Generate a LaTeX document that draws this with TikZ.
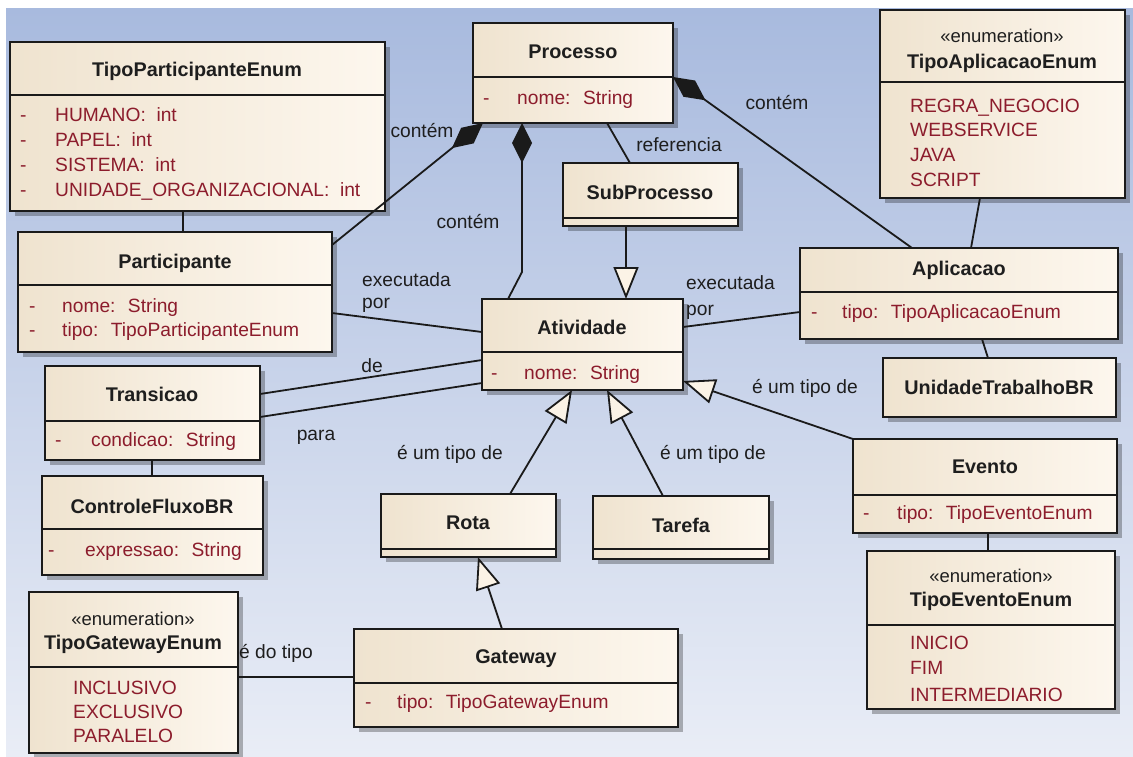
\documentclass[tikz,border=0pt]{standalone}
\usepackage{fontspec}
\setmainfont{Liberation Sans}
\usetikzlibrary{arrows.meta,shadows}

\definecolor{bgtop}{HTML}{A8BADE}
\definecolor{bgbot}{HTML}{E9EDF6}
\definecolor{boxL}{HTML}{EFE3CF}
\definecolor{boxR}{HTML}{FDF7EE}
\definecolor{edge}{HTML}{1A1A1A}
\definecolor{ink}{HTML}{1E1E1E}
\definecolor{attrc}{HTML}{8C1C2C}
\definecolor{tipc}{HTML}{FBF3E6}

% class box from top-left (x1,y1) to bottom-right (x2,y2), in pixel units
\newcommand\umlbox[5]{%
  \pgfmathsetmacro\bw{#4-#2}\pgfmathsetmacro\bh{#5-#3}%
  \node[cls, anchor=north west, minimum width=\bw pt, minimum height=\bh pt] (#1) at (#2,#3) {};}
% compartment divider of box #1 at height #2
\newcommand\umlsep[2]{\draw[boxline] (#1.west |- 0,#2) -- (#1.east |- 0,#2);}

\begin{document}
\begin{tikzpicture}[x=1pt,y=-1pt,
  cls/.style={draw=edge, line width=1.8pt, left color=boxL, right color=boxR,
    inner sep=0pt, outer sep=0pt,
    drop shadow={shadow xshift=5pt, shadow yshift=-5pt, fill=black, opacity=0.28}},
  boxline/.style={draw=edge, line width=1.8pt},
  txt/.style={inner sep=0pt, text height=13.6pt, text depth=0pt},
  ttl/.style={txt, font=\fontsize{19.8}{22}\selectfont\bfseries, text=ink},
  stereo/.style={txt, font=\fontsize{18.5}{22}\selectfont, text=ink},
  attr/.style={txt, font=\fontsize{19.2}{22}\selectfont, text=attrc, anchor=west},
  lbl/.style={txt, font=\fontsize{19.2}{22}\selectfont, text=ink},
  link/.style={draw=edge, line width=1.8pt},
  comp/.style={link, {Diamond[length=40pt,width=20pt]}-},
  gen/.style={link, -{Triangle[length=32pt,width=25pt,fill=tipc]}},
]
\useasboundingbox (0,0) rectangle (1133,756);
\fill[white] (0,0) rectangle (1133,756);
\shade[top color=bgtop, bottom color=bgbot] (6,8) rectangle (1133,756);

% ---------- classes ----------
\umlbox{tpe}{10}{42}{385}{211}
\umlsep{tpe}{95}
\node[ttl] (tpe-t) at (197,70) {TipoParticipanteEnum};
\node[attr] (tpe-d1) at (20,115) {-};
\node[attr] (tpe-a1) at (55,115) {HUMANO:~ int};
\node[attr] (tpe-d2) at (20,140) {-};
\node[attr] (tpe-a2) at (55,140) {PAPEL:~ int};
\node[attr] (tpe-d3) at (20,165) {-};
\node[attr] (tpe-a3) at (55,165) {SISTEMA:~ int};
\node[attr] (tpe-d4) at (20,190) {-};
\node[attr] (tpe-a4) at (55,190) {UNIDADE\_ORGANIZACIONAL:~ int};

\umlbox{proc}{473}{23}{673}{123}
\umlsep{proc}{77}
\node[ttl] (proc-t) at (573,52) {Processo};
\node[attr] (proc-d1) at (483,98) {-};
\node[attr] (proc-a1) at (517,98) {nome:~ String};

\umlbox{tae}{880}{10}{1125}{198}
\umlsep{tae}{82}
\node[stereo] (tae-s) at (1002,36) {«enumeration»};
\node[ttl] (tae-t) at (1002,62) {TipoAplicacaoEnum};
\node[attr] (tae-a1) at (910,106) {REGRA\_NEGOCIO};
\node[attr] (tae-a2) at (910,130) {WEBSERVICE};
\node[attr] (tae-a3) at (910,155) {JAVA};
\node[attr] (tae-a4) at (910,180) {SCRIPT};

\umlbox{sub}{563}{163}{738}{226}
\umlsep{sub}{218}
\node[ttl] (sub-t) at (650,193) {SubProcesso};

\umlbox{part}{18}{232}{332}{352}
\umlsep{part}{285}
\node[ttl] (part-t) at (175,262) {Participante};
\node[attr] (part-d1) at (29,306) {-};
\node[attr] (part-a1) at (62,306) {nome:~ String};
\node[attr] (part-d2) at (29,330) {-};
\node[attr] (part-a2) at (62,330) {tipo:~ TipoParticipanteEnum};

\umlbox{apl}{800}{248}{1118}{339}
\umlsep{apl}{292}
\node[ttl] (apl-t) at (959,269) {Aplicacao};
\node[attr] (apl-d1) at (811,312) {-};
\node[attr] (apl-a1) at (842,312) {tipo:~ TipoAplicacaoEnum};

\umlbox{ativ}{482}{299}{683}{390}
\umlsep{ativ}{352}
\node[ttl] (ativ-t) at (582,328) {Atividade};
\node[attr] (ativ-d1) at (491,373) {-};
\node[attr] (ativ-a1) at (524,373) {nome:~ String};

\umlbox{utbr}{883}{358}{1116}{417}
\node[ttl] (utbr-t) at (999,388) {UnidadeTrabalhoBR};

\umlbox{trans}{45}{366}{260}{460}
\umlsep{trans}{421}
\node[ttl] (trans-t) at (152,395) {Transicao};
\node[attr] (trans-d1) at (55,440) {-};
\node[attr] (trans-a1) at (91,440) {condicao:~ String};

\umlbox{cfbr}{42}{476}{263}{575}
\umlsep{cfbr}{529}
\node[ttl] (cfbr-t) at (152,507) {ControleFluxoBR};
\node[attr] (cfbr-d1) at (48,550) {-};
\node[attr] (cfbr-a1) at (85,550) {expressao:~ String};

\umlbox{tge}{29}{592}{238}{753}
\umlsep{tge}{667}
\node[stereo] (tge-s) at (133,619) {«enumeration»};
\node[ttl] (tge-t) at (133,643) {TipoGatewayEnum};
\node[attr] (tge-a1) at (73,688) {INCLUSIVO};
\node[attr] (tge-a2) at (73,712) {EXCLUSIVO};
\node[attr] (tge-a3) at (73,736) {PARALELO};

\umlbox{rota}{381}{494}{556}{557}
\umlsep{rota}{549}
\node[ttl] (rota-t) at (468,523) {Rota};

\umlbox{tar}{593}{496}{769}{559}
\umlsep{tar}{549}
\node[ttl] (tar-t) at (681,526) {Tarefa};

\umlbox{gw}{354}{629}{678}{727}
\umlsep{gw}{683}
\node[ttl] (gw-t) at (516,657) {Gateway};
\node[attr] (gw-d1) at (365,702) {-};
\node[attr] (gw-a1) at (397,702) {tipo:~ TipoGatewayEnum};

\umlbox{evt}{853}{439}{1117}{533}
\umlsep{evt}{495}
\node[ttl] (evt-t) at (985,467) {Evento};
\node[attr] (evt-d1) at (863,513) {-};
\node[attr] (evt-a1) at (897,513) {tipo:~ TipoEventoEnum};

\umlbox{tee}{867}{551}{1115}{709}
\umlsep{tee}{625}
\node[stereo] (tee-s) at (991,576) {«enumeration»};
\node[ttl] (tee-t) at (991,600) {TipoEventoEnum};
\node[attr] (tee-a1) at (910,643) {INICIO};
\node[attr] (tee-a2) at (910,668) {FIM};
\node[attr] (tee-a3) at (910,695) {INTERMEDIARIO};

% ---------- associations and compositions ----------
\draw[link] (183,0 |- tpe.south) -- (183,0 |- part.north);
\draw[comp] (483,0 |- proc.south) -- (part.east |- 0,245);
\draw[comp] (522,0 |- proc.south) -- (522,272) -- (508,0 |- ativ.north);
\draw[link] (607,0 |- proc.south) -- (630,0 |- sub.north);
\draw[comp] (proc.east |- 0,77) -- (912,0 |- apl.north);
\draw[link] (980,0 |- tae.south) -- (971,0 |- apl.north);
\draw[link] (982,0 |- apl.south) -- (988,0 |- utbr.north);
\draw[link] (part.east |- 0,313) -- (ativ.west |- 0,332);
\draw[link] (trans.east |- 0,394) -- (ativ.west |- 0,360);
\draw[link] (trans.east |- 0,417) -- (ativ.west |- 0,383);
\draw[link] (ativ.east |- 0,327) -- (apl.west |- 0,312);
\draw[link] (152,0 |- trans.south) -- (152,0 |- cfbr.north);
\draw[link] (tge.east |- 0,677) -- (gw.west |- 0,677);
\draw[link] (988,0 |- evt.south) -- (988,0 |- tee.north);

% ---------- generalizations ----------
\draw[gen] (626,0 |- sub.south) -- (626,0 |- ativ.north);
\draw[gen] (510,0 |- rota.north) -- (572,0 |- ativ.south);
\draw[gen] (663,0 |- tar.north) -- (607,0 |- ativ.south);
\draw[gen] (evt.north west) -- (ativ.east |- 0,381);
\draw[gen] (502,0 |- gw.north) -- (478,0 |- rota.south);

% ---------- connector labels ----------
\node[lbl] (l-cont1) at (422,131) {contém};
\node[lbl] (l-cont2) at (468,222) {contém};
\node[lbl] (l-cont3) at (777,103) {contém};
\node[lbl] (l-ref) at (679,145) {referencia};
\node[lbl, anchor=west] (l-exa1) at (362,280) {executada};
\node[lbl, anchor=west] (l-exa2) at (362,302) {por};
\node[lbl, anchor=west] (l-exb1) at (686,283) {executada};
\node[lbl, anchor=west] (l-exb2) at (686,309) {por};
\node[lbl] (l-de) at (372,366) {de};
\node[lbl] (l-para) at (316,434) {para};
\node[lbl] (l-tipo1) at (450,453) {é um tipo de};
\node[lbl] (l-tipo2) at (713,453) {é um tipo de};
\node[lbl] (l-tipo3) at (805,387) {é um tipo de};
\node[lbl] (l-dotipo) at (276,652) {é do tipo};
\end{tikzpicture}
\end{document}
